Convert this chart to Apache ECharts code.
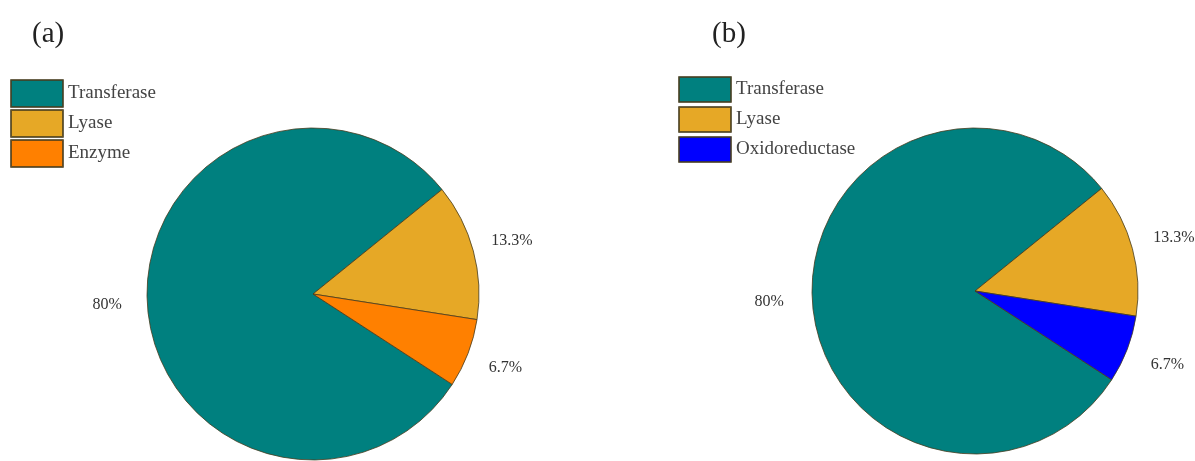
<!DOCTYPE html>
<html>
<head>
<meta charset="utf-8">
<script src="https://cdn.jsdelivr.net/npm/echarts@6/dist/echarts.min.js"></script>
<style>
  html, body { margin: 0; padding: 0; background: #fff; }
  #chart { width: 1195px; height: 461px; }
</style>
</head>
<body>
<div id="chart"></div>
<script>
// Enzyme class shares (%) for the two sets
const namesA = ['Transferase', 'Lyase', 'Enzyme'];
const valuesA = [80, 13.3, 6.7];
const namesB = ['Transferase', 'Lyase', 'Oxidoreductase'];
const valuesB = [80, 13.3, 6.7];
const panelTitles = ['(a)', '(b)'];

const colorMap = {
  'Transferase': '#00807f',
  'Lyase': '#e6a826',
  'Enzyme': '#ff8000',
  'Oxidoreductase': '#0000ff'
};

const serif = '"Liberation Serif", "Times New Roman", serif';

function pieData(names, values) {
  return names.map((n, i) => ({
    name: n,
    value: values[i],
    itemStyle: { color: colorMap[n] }
  }));
}

// Transparent ring that only carries the percentage labels, centred on each slice's mid-angle
function labelRing(id, center, names, values) {
  return {
    id: id,
    type: 'pie',
    center: center,
    radius: [193, 213],
    startAngle: 327,
    clockwise: true,
    silent: true,
    avoidLabelOverlap: false,
    itemStyle: { color: 'rgba(0,0,0,0)', borderWidth: 0 },
    label: {
      show: true,
      position: 'inside',
      formatter: '{c}%',
      fontFamily: serif,
      fontSize: 16,
      color: '#333'
    },
    labelLine: { show: false },
    emphasis: { disabled: true },
    data: names.map((n, i) => ({ name: n, value: values[i] }))
  };
}

function mainPie(id, center, radius, names, values) {
  return {
    id: id,
    type: 'pie',
    center: center,
    radius: radius,
    startAngle: 327,
    clockwise: true,
    avoidLabelOverlap: false,
    itemStyle: { borderColor: 'rgba(70,60,30,0.8)', borderWidth: 1 },
    label: { show: false },
    labelLine: { show: false },
    data: pieData(names, values)
  };
}

const legendText = { fontFamily: serif, fontSize: 19, color: '#444' };

const chart = echarts.init(document.getElementById('chart'), null, { renderer: 'canvas' });
chart.setOption({
  backgroundColor: '#fff',
  animation: false,
  title: [
    { text: panelTitles[0], left: 27, top: 15,
      textStyle: { fontFamily: serif, fontSize: 29, fontWeight: 'normal', color: '#222' } },
    { text: panelTitles[1], left: 707, top: 15,
      textStyle: { fontFamily: serif, fontSize: 29, fontWeight: 'normal', color: '#222' } }
  ],
  legend: [
    { data: namesA, orient: 'vertical', left: 10, top: 79, itemWidth: 52, itemHeight: 27,
      itemGap: 1, icon: 'rect', padding: 0, textStyle: legendText, selectedMode: false },
    { data: namesB, orient: 'vertical', left: 678, top: 76, itemWidth: 52, itemHeight: 25,
      itemGap: 3, icon: 'rect', padding: 0, textStyle: legendText, selectedMode: false }
  ],
  series: [
    mainPie('pieA', [313, 294], 166, namesA, valuesA),
    mainPie('pieB', [975, 291], 163, namesB, valuesB),
    labelRing('labelsA', [313, 294], namesA, valuesA),
    labelRing('labelsB', [975, 291], namesB, valuesB)
  ]
});
</script>
</body>
</html>
